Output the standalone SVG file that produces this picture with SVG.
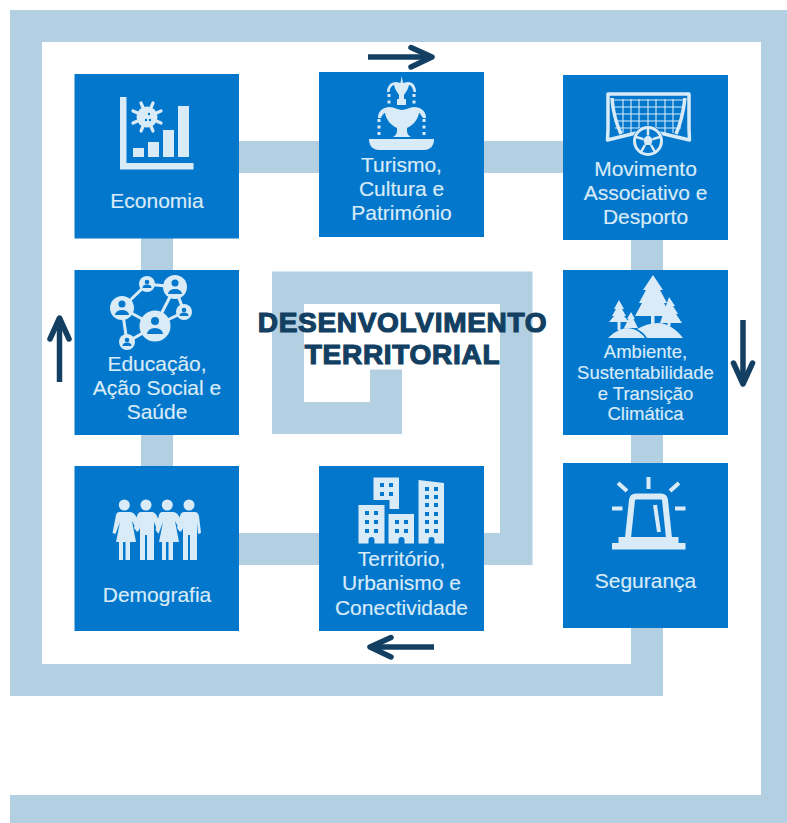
<svg xmlns="http://www.w3.org/2000/svg" width="787" height="823" viewBox="0 0 787 823">
<style>
.card{fill:#0277cc}
.ic{fill:#daebf8}
.cut{fill:#0277cc}
.lbl{font-family:"Liberation Sans",Arial,sans-serif;font-size:21px;fill:#daebf8;stroke:#daebf8;stroke-width:.15;text-anchor:middle}
.sm{font-size:18.500px}
.maze{fill:#b3cfe2}
.arr{fill:none;stroke:#123f62;stroke-width:5.500;stroke-linejoin:round}
.ttl{font-family:"Liberation Sans",Arial,sans-serif;font-weight:bold;font-size:28px;letter-spacing:.7px;fill:#123f62;stroke:#123f62;stroke-width:1.200;text-anchor:middle}
</style>
<rect width="787" height="823" fill="#fff"/>
<g id="connectors">
<path class="maze" d="M10 10H787V823H10V795H761V42H42V664H631V240H663V696H10z"/>
<rect class="maze" x="141" y="238" width="32" height="228"/>
<rect class="maze" x="238" y="141" width="325" height="32"/>
<path class="maze" d="M239 533H500V304H304V402H370V369.500H402V434H272V271.500H532.500V565H239z"/>
<path class="arr" d="M368 57H430"/><path class="arr" stroke-linecap="round" d="M411 47.500L432 57L411 67"/>
<path class="arr" d="M743 320V382"/><path class="arr" stroke-linecap="round" d="M733.500 363L743 384L752.500 363"/>
<path class="arr" d="M434 647H372"/><path class="arr" stroke-linecap="round" d="M391 637.500L370 647L391 657"/>
<path class="arr" d="M59.500 382V319"/><path class="arr" stroke-linecap="round" d="M50 339L59.500 318L69 339"/>
</g>
<g id="node-economia">
<rect class="card" x="74.500" y="74" width="164.500" height="164.500"/>
<path class="ic" d="M120 97h6.500v66H193.500v6.500H120z"/>
<rect class="ic" x="133" y="148" width="11" height="9"/><rect class="ic" x="148" y="142" width="11" height="15"/><rect class="ic" x="163" y="130" width="11" height="27"/><rect class="ic" x="178" y="106" width="11" height="51"/>
<circle class="ic" cx="147" cy="117" r="10.500"/>
<path fill="none" stroke="#daebf8" stroke-width="3.200" stroke-linecap="round" d="M153 103L141 131M161 111L133 123M161 123L133 111M153 131L141 103"/>
<circle class="cut" cx="149" cy="114" r="1.200"/><circle class="cut" cx="146" cy="120" r="1.200"/><circle class="cut" cx="150" cy="120" r="1.200"/>
<text class="lbl" x="157" y="208">Economia</text>
</g>
<g id="node-turismo">
<rect class="card" x="319" y="72" width="165" height="165"/>
<path class="ic" d="M369 139H434C434 146 430 150 424 150H379C373 150 369 146 369 139z"/>
<path class="ic" d="M378 118C378 111 383 107 390 107C394 107 398 110 402 110C406 110 410 107 414 107C421 107 426 111 426 118H423C421 115 420 113 419 113C418 120 412 126 407 128V131C407 134 409 136 411 137H393C395 136 397 134 397 131V128C392 126 386 120 385 113C384 113 382 115 381 118z"/>
<path class="ic" d="M387 92C387 86 391 82 396 82C398 82 399 83 400.500 83L401.700 76L403 83C404.500 83 406 82 408 82C413 82 416 86 416 92H413.500C413 88 411 85 409 85C408 90 405 93 404 95V99H406V105H397V99H399V95C398 93 395 90 394 85C392 85 390 88 389.500 92z"/>
<path fill="none" stroke="#daebf8" stroke-width="3" stroke-dasharray="3 3.500" d="M379 119V137M424 119V137M389 94V105M414 94V105"/>
<text class="lbl" x="401.500" y="172">Turismo,</text><text class="lbl" x="401.500" y="196">Cultura e</text><text class="lbl" x="401.500" y="220">Património</text>
</g>
<g id="node-movimento">
<rect class="card" x="563" y="75" width="165" height="165"/>
<path d="M608 129V94H689V129L689.500 140L660 133H636L607.500 140z" fill="none" stroke="#daebf8" stroke-width="3.500" stroke-linejoin="round"/>
<path fill="none" stroke="#daebf8" stroke-width="1.100" d="M614 100H683M613 107H684M613 114H684M614 121H682M615 128H681M623 99V133M631 99V133M639 99V133M648 99V133M656 99V133M665 99V133M673 99V133"/>
<path fill="none" stroke="#daebf8" stroke-width="3.500" d="M612 98C613 115 617 125 621 134M685 98C683 115 680 125 676 134"/>
<circle cx="648" cy="141" r="15.500" fill="#0277cc"/>
<circle cx="648" cy="141" r="13.500" fill="none" stroke="#daebf8" stroke-width="3"/>
<path class="ic" d="M648 135L653 139L651 145H645L643 139z"/>
<path fill="none" stroke="#daebf8" stroke-width="2.500" d="M648 135V128M653 139L660 137M651 145L655 152M645 145L641 152M643 139L636 137"/>
<text class="lbl" x="645.500" y="175.500">Movimento</text><text class="lbl" x="645.500" y="199.500">Associativo e</text><text class="lbl" x="645.500" y="223.500">Desporto</text>
</g>
<g id="node-educacao">
<rect class="card" x="74.500" y="270" width="164.500" height="165"/>
<path fill="none" stroke="#daebf8" stroke-width="3" d="M122 308L147 284L175 287L184 312L155 326L127 342L122 308L155 326M175 287L155 326"/>
<circle class="ic" cx="122" cy="308" r="12"/><circle class="ic" cx="147" cy="284" r="8"/><circle class="ic" cx="175" cy="287" r="12"/><circle class="ic" cx="184" cy="312" r="8"/><circle class="ic" cx="155" cy="326" r="15.500"/><circle class="ic" cx="127" cy="342" r="8"/>
<circle class="cut" cx="122" cy="304" r="3.500"/><path class="cut" d="M115 315a7 5 0 0 1 14 0z"/>
<circle class="cut" cx="147" cy="282" r="2.300"/><path class="cut" d="M142.500 288a4.500 3.500 0 0 1 9 0z"/>
<circle class="cut" cx="175" cy="283" r="3.500"/><path class="cut" d="M168 294a7 5 0 0 1 14 0z"/>
<circle class="cut" cx="184" cy="310" r="2.300"/><path class="cut" d="M179.500 316a4.500 3.500 0 0 1 9 0z"/>
<circle class="cut" cx="155" cy="321" r="4"/><path class="cut" d="M147 334a8 6 0 0 1 16 0z"/>
<circle class="cut" cx="127" cy="340" r="2.300"/><path class="cut" d="M122.500 346a4.500 3.500 0 0 1 9 0z"/>
<text class="lbl" x="157" y="371">Educação,</text><text class="lbl" x="157" y="395">Ação Social e</text><text class="lbl" x="157" y="419">Saúde</text>
</g>
<g id="node-ambiente">
<rect class="card" x="563" y="270" width="165" height="165"/>
<path class="ic" d="M669 297L675 306H673L678 314H676L682 323H660z"/>
<rect class="ic" x="667.500" y="320" width="3" height="6"/>
<path class="ic" d="M653 275L663 290H660L667 303H664L671 316H635L642 303H639L646 290H643z"/>
<rect class="ic" x="651" y="314" width="3.500" height="12"/>
<path class="ic" d="M619 300L624 309H622L626 316H624L629 322H609L614 316H612L616 309H614z"/>
<rect class="ic" x="617.500" y="320" width="3" height="10"/>
<path class="ic" d="M631 312L635 319H633.500L638 328H624L628.500 319H627z"/>
<path class="ic" d="M608 338C614 332 620 329 626 328C634 328 641 332 645 338z"/>
<path class="ic" d="M637 329C644 325 651 323 658 323C668 323 677 330 683 338H647C645 334 641 331 637 329z"/>
<text class="lbl sm" x="645.500" y="358">Ambiente,</text><text class="lbl sm" x="645.500" y="379">Sustentabilidade</text><text class="lbl sm" x="645.500" y="399.500">e Transição</text><text class="lbl sm" x="645.500" y="420">Climática</text>
</g>
<g id="node-demografia">
<rect class="card" x="74.500" y="466" width="164.500" height="165"/>
<circle class="ic" cx="124.300" cy="505" r="5.500"/><circle class="ic" cx="146" cy="505" r="5.500"/><circle class="ic" cx="167.300" cy="505" r="5.500"/><circle class="ic" cx="189" cy="505" r="5.500"/>
<path class="ic" d="M119 512H130C133 512 135 514 137 518L141 526L138 532L132 521L136 542H130V560H125.500V542H123V560H119V542H116L120 522L115.500 534L112.500 533L116 515C116.500 513 118 512 119 512z"/>
<path class="ic" d="M141 512H152C154 512 155 513 157 516L161 526L158 532L154 522V560H147V535H145V560H140V522L137 532L134 528L137 516C138 513 139 512 141 512z"/>
<path class="ic" d="M162 512H173C176 512 178 514 180 518L184 526L181 532L175 521L179 542H173V560H168.500V542H166V560H162V542H159L163 522L158.500 534L155.500 530L159 515C159.500 513 161 512 162 512z"/>
<path class="ic" d="M184 512H195C197 512 198 513 199 516L201 533L198 534L197 522V560H190V535H188V560H183V522L180 532L177 528L180 516C181 513 182 512 184 512z"/>
<text class="lbl" x="157" y="602">Demografia</text>
</g>
<g id="node-territorio">
<rect class="card" x="319" y="466" width="165" height="165"/>
<path class="ic" d="M373.500 477.500H399V509H389.500V500H373.500z"/>
<path class="ic" d="M358.500 505H384.500V543.500H374.500V540A3 3 0 0 0 368.500 540V543.500H358.500z"/>
<path class="ic" d="M388.500 514H414V543.500H404.500V540A3 3 0 0 0 398.500 540V543.500H388.500z"/>
<path class="ic" d="M418.500 480L444 483V543.500H434.500V540A3 3 0 0 0 428.500 540V543.500H418.500z"/>
<g class="cut">
<rect x="380" y="483" width="4" height="4"/><rect x="389" y="483" width="4" height="4"/><rect x="380" y="492" width="4" height="4"/><rect x="389" y="492" width="4" height="4"/>
<rect x="365" y="511" width="4" height="4"/><rect x="374" y="511" width="4" height="4"/><rect x="365" y="520" width="4" height="4"/><rect x="374" y="520" width="4" height="4"/><rect x="365" y="529" width="4" height="4"/><rect x="374" y="529" width="4" height="4"/>
<rect x="395" y="520" width="4" height="4"/><rect x="404" y="520" width="4" height="4"/><rect x="395" y="529" width="4" height="4"/><rect x="404" y="529" width="4" height="4"/>
<rect x="425" y="487" width="4" height="4"/><rect x="434" y="487" width="4" height="4"/><rect x="425" y="495" width="4" height="4"/><rect x="434" y="495" width="4" height="4"/><rect x="425" y="503" width="4" height="4"/><rect x="434" y="503" width="4" height="4"/><rect x="425" y="512" width="4" height="4"/><rect x="434" y="512" width="4" height="4"/><rect x="425" y="520" width="4" height="4"/><rect x="434" y="520" width="4" height="4"/><rect x="425" y="529" width="4" height="4"/><rect x="434" y="529" width="4" height="4"/>
</g>
<text class="lbl" x="401.500" y="566">Território,</text><text class="lbl" x="401.500" y="590">Urbanismo e</text><text class="lbl" x="401.500" y="615">Conectividade</text>
</g>
<g id="node-seguranca">
<rect class="card" x="563" y="463" width="165" height="165"/>
<path d="M628 538L632 500Q632.500 496.500 636 496.500H661Q664.500 496.500 665 500L669 538" fill="none" stroke="#daebf8" stroke-width="6"/>
<path class="ic" d="M618.500 537H678.500V543H685.500V549.500H612V543H618.500z"/>
<path fill="none" stroke="#daebf8" stroke-width="4" d="M655 505L659 532M648.500 477V489M618 483L627 491M679 483L670 491M612 508.500H622.500M675 508.500H685.500"/>
<text class="lbl" x="645.500" y="588">Segurança</text>
</g>
<g id="node-titulo">
<text class="ttl" x="402.500" y="331.500">DESENVOLVIMENTO</text>
<text class="ttl" x="402.500" y="364">TERRITORIAL</text>
</g>
</svg>
